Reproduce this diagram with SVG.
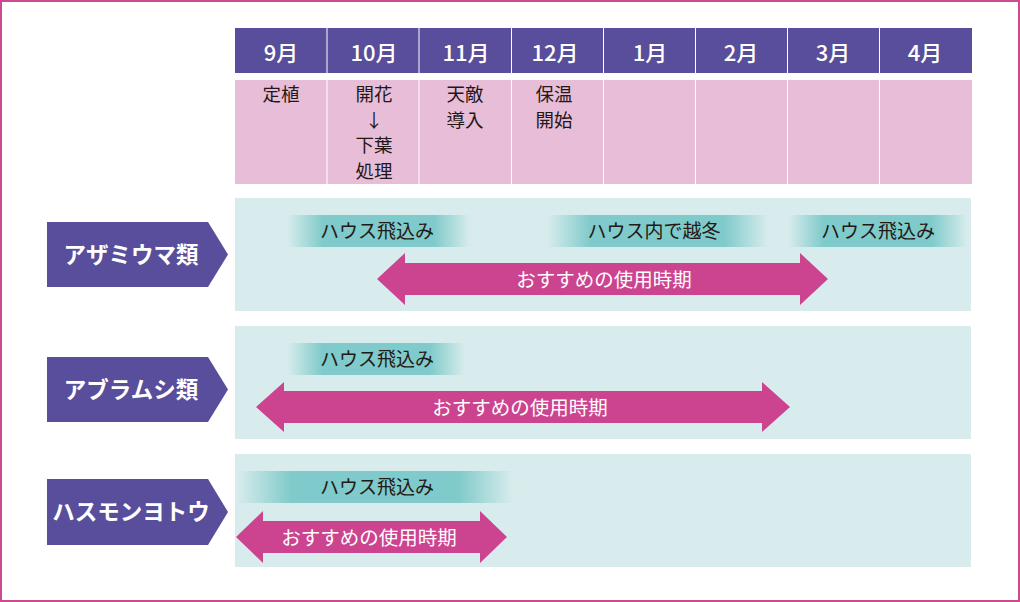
<svg xmlns="http://www.w3.org/2000/svg" width="1020" height="602" viewBox="0 0 1020 602">
<defs>
<linearGradient id="tealbar" x1="0" y1="0" x2="1" y2="0">
<stop offset="0" stop-color="#d8ecec"/>
<stop offset="0.2" stop-color="#7fcaca"/>
<stop offset="0.8" stop-color="#7fcaca"/>
<stop offset="1" stop-color="#d8ecec"/>
</linearGradient>
<style>
.hd{fill:#594e9c}
.pk{fill:#e8bdd8}
.band{fill:#d8ecee}
.bar{fill:url(#tealbar)}
.arrow{fill:#cc4490}
.lab{fill:#594e9c}
.t{font-family:"Noto Sans CJK JP","Noto Sans",sans-serif;text-anchor:middle}
.mh{font-size:22px;fill:#ffffff;font-weight:500}
.ev{font-size:18.5px;fill:#231815}
.bt{font-size:19px;fill:#231815}
.at{font-size:19.5px;fill:#ffffff}
.lt{font-size:22.5px;fill:#ffffff;font-weight:bold}
</style>
</defs>
<rect x="0" y="0" width="1020" height="602" fill="#ffffff"/>
<rect x="1" y="1" width="1018" height="600" fill="none" stroke="#cc4a8e" stroke-width="2"/>

<g id="header">
<rect class="hd" x="235" y="28" width="91.5" height="45"/>
<rect class="hd" x="327.5" y="28" width="91" height="45"/>
<rect class="hd" x="419.5" y="28" width="91.5" height="45"/>
<rect class="hd" x="512" y="28" width="91" height="45"/>
<rect class="hd" x="604" y="28" width="91" height="45"/>
<rect class="hd" x="696" y="28" width="91" height="45"/>
<rect class="hd" x="788" y="28" width="91" height="45"/>
<rect class="hd" x="880" y="28" width="92" height="45"/>
<text class="t mh" x="281" y="61">9月</text>
<text class="t mh" x="374" y="61">10月</text>
<text class="t mh" x="466" y="61">11月</text>
<text class="t mh" x="555" y="61">12月</text>
<text class="t mh" x="650" y="61">1月</text>
<text class="t mh" x="741" y="61">2月</text>
<text class="t mh" x="833" y="61">3月</text>
<text class="t mh" x="925" y="61">4月</text>
</g>

<g id="events">
<rect class="pk" x="235" y="80" width="91.5" height="104"/>
<rect class="pk" x="327.5" y="80" width="91" height="104"/>
<rect class="pk" x="419.5" y="80" width="91.5" height="104"/>
<rect class="pk" x="512" y="80" width="91" height="104"/>
<rect class="pk" x="604" y="80" width="91" height="104"/>
<rect class="pk" x="696" y="80" width="91" height="104"/>
<rect class="pk" x="788" y="80" width="91" height="104"/>
<rect class="pk" x="880" y="80" width="92" height="104"/>
<text class="t ev" x="281" y="101">定植</text>
<text class="t ev" x="374" y="101">開花</text>
<text class="t ev" x="374" y="127">↓</text>
<text class="t ev" x="374" y="152">下葉</text>
<text class="t ev" x="374" y="178">処理</text>
<text class="t ev" x="465" y="101">天敵</text>
<text class="t ev" x="465" y="127">導入</text>
<text class="t ev" x="554" y="101">保温</text>
<text class="t ev" x="554" y="127">開始</text>
</g>

<g id="row-azamiuma">
<rect class="band" x="235" y="198" width="736" height="113"/>
<path class="lab" d="M47,222 L208,222 L228,254.5 L208,287 L47,287 Z"/>
<text class="t lt" x="131" y="263">アザミウマ類</text>
<rect class="bar" x="287" y="215" width="183" height="32"/>
<text class="t bt" x="377" y="238">ハウス飛込み</text>
<rect class="bar" x="547" y="215" width="221" height="32"/>
<text class="t bt" x="654" y="238">ハウス内で越冬</text>
<rect class="bar" x="788" y="215" width="179" height="32"/>
<text class="t bt" x="878" y="238">ハウス飛込み</text>
</g>

<g id="row-aburamushi">
<rect class="band" x="235" y="326" width="736" height="113"/>
<path class="lab" d="M47,357 L208,357 L228,389.5 L208,422 L47,422 Z"/>
<text class="t lt" x="131" y="398">アブラムシ類</text>
<rect class="bar" x="287" y="343" width="178" height="32"/>
<text class="t bt" x="377" y="366">ハウス飛込み</text>
</g>

<g id="row-hasumonyotou">
<rect class="band" x="235" y="454" width="736" height="113"/>
<path class="lab" d="M47,479 L208,479 L228,512 L208,545 L47,545 Z"/>
<text class="t lt" x="131" y="520">ハスモンヨトウ</text>
<rect class="bar" x="237" y="471" width="276" height="32"/>
<text class="t bt" x="377" y="494">ハウス飛込み</text>
</g>

<g id="connectors">
<path class="arrow" d="M377,279 L405,253 L405,263 L800,263 L800,253 L828,279 L800,305 L800,295 L405,295 L405,305 Z"/>
<text class="t at" x="604" y="287">おすすめの使用時期</text>
<path class="arrow" d="M256,407 L284,382 L284,391 L762,391 L762,382 L790,407 L762,432 L762,423 L284,423 L284,432 Z"/>
<text class="t at" x="520" y="415">おすすめの使用時期</text>
<path class="arrow" d="M236,537 L263,511 L263,521 L480,521 L480,511 L507,537 L480,563 L480,553 L263,553 L263,563 Z"/>
<text class="t at" x="369" y="545">おすすめの使用時期</text>
</g>
</svg>
